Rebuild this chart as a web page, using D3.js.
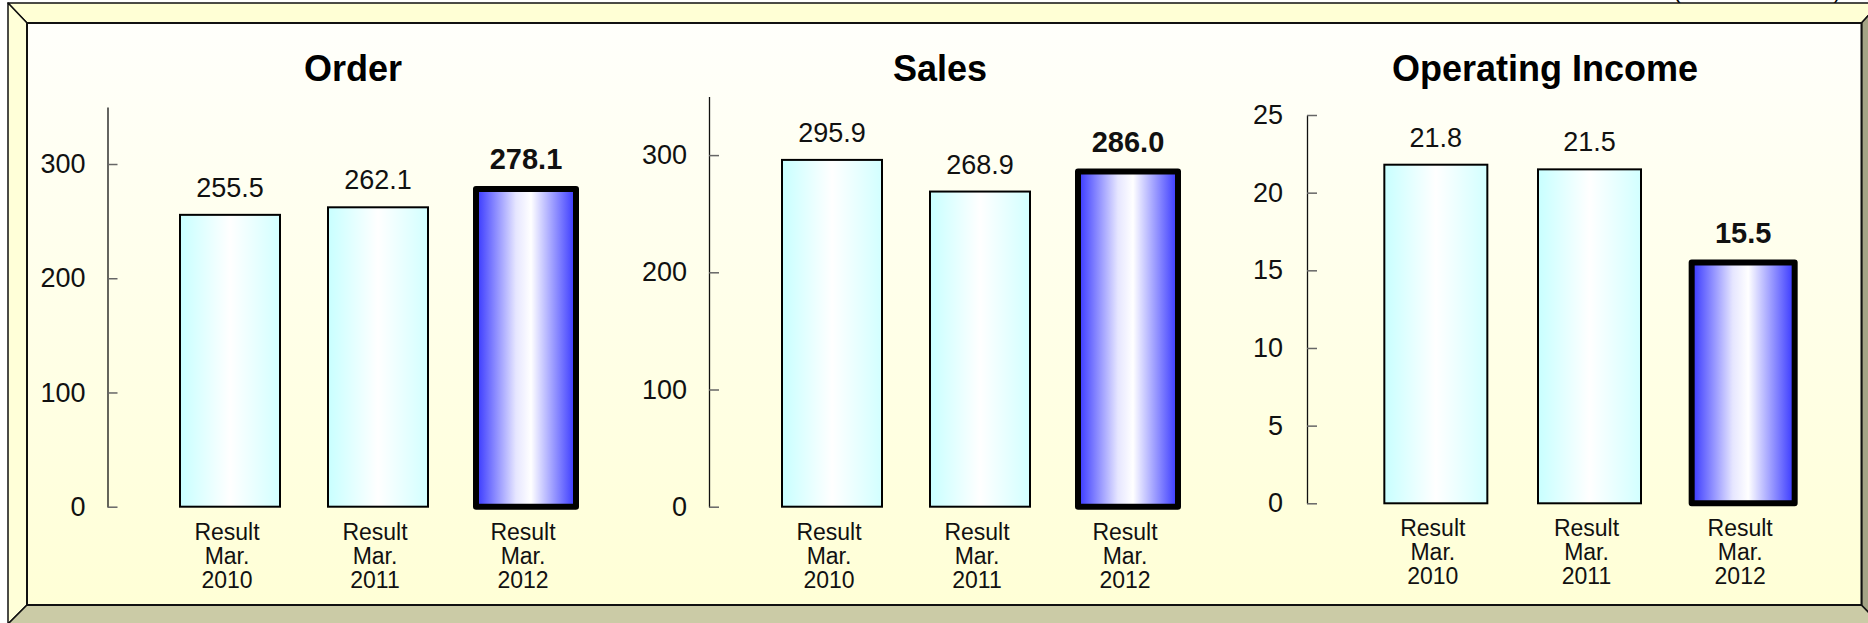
<!DOCTYPE html>
<html lang="en">

<head>
    <meta charset="UTF-8">
    <script src="https://cdn.jsdelivr.net/npm/d3@7/dist/d3.min.js"></script>
    <title>Order / Sales / Operating Income</title>
    <style>
        body { margin: 0; background: #fff; }
        svg { display: block; font-family: "Liberation Sans", Arial, sans-serif; }
    </style>
</head>

<body>
    <svg id="mainsvg" width="1868" height="623"></svg>
    <script>
        // data
        const categories = ['Result Mar. 2010', 'Result Mar. 2011', 'Result Mar. 2012']
        const titles = ['Order', 'Sales', 'Operating Income']
        const orderValues = [255.5, 262.1, 278.1]
        const salesValues = [295.9, 268.9, 286.0]
        const incomeValues = [21.8, 21.5, 15.5]
        const orderTicks = [0, 100, 200, 300]
        const salesTicks = [0, 100, 200, 300]
        const incomeTicks = [0, 5, 10, 15, 20, 25]
        const axisMax = [350, 350, 25]
        const highlightCategory = 'Result Mar. 2012'
        const unitText = '(Unit: Billion Yen)'

        const series = [orderValues, salesValues, incomeValues]
        const tickSets = [orderTicks, salesTicks, incomeTicks]

        // where each small chart sits on the page
        const panels = [
            { axisX: 107.5, yBottom: 506.7, yTop: 106.9, x0: 156, x1: 600, barW: 100, titleX: 353, pad: 22 },
            { axisX: 709, yBottom: 506.7, yTop: 96.5, x0: 758, x1: 1202, barW: 100, titleX: 940, pad: 22 },
            { axisX: 1307, yBottom: 503.3, yTop: 115, x0: 1359, x1: 1820, barW: 103, titleX: 1545, pad: 24 }
        ]

        const svg = d3.select('#mainsvg')
        const defs = svg.append('defs')

        const addGradient = (id, stops, vertical) => {
            const gr = defs.append('linearGradient').attr('id', id)
                .attr('x1', 0).attr('y1', 0)
                .attr('x2', vertical ? 0 : 1).attr('y2', vertical ? 1 : 0)
            stops.forEach(s => gr.append('stop').attr('offset', s[0]).attr('stop-color', s[1]))
        }
        addGradient('panelFill', [[0, '#fffffb'], [1, '#ffffd6']], true)
        addGradient('cyanBar', [[0, '#c8ffff'], [0.5, '#ffffff'], [1, '#d2ffff']], false)
        addGradient('blueBar', [[0, '#3535ff'], [0.4, '#e6e6ff'], [0.55, '#ffffff'], [1, '#3535ff']], false)

        // unit note, mostly above the page edge
        svg.append('text').text(unitText)
            .attr('x', 1757).attr('y', -2)
            .attr('text-anchor', 'middle')
            .attr('font-size', 22)

        // bevelled frame
        const L = 8, T = 3, R = 1880, B = 624
        const il = 27, it = 23, ir = 1861.5, ib = 605
        const bevel = [
            { pts: [[L, T], [R, T], [ir, it], [il, it]], fill: '#ffffd5' },
            { pts: [[L, T], [il, it], [il, ib], [L, B]], fill: '#ffffd8' },
            { pts: [[L, B], [il, ib], [ir, ib], [R, B]], fill: '#cbcba6' },
            { pts: [[R, T], [ir, it], [ir, ib], [R, B]], fill: '#a4a486' }
        ]
        bevel.forEach(b => {
            svg.append('polygon')
                .attr('points', b.pts.map(p => p.join(',')).join(' '))
                .attr('fill', b.fill)
                .attr('stroke', '#111')
                .attr('stroke-width', 1.5)
                .attr('stroke-linejoin', 'round')
        })
        svg.append('rect')
            .attr('x', il).attr('y', it)
            .attr('width', ir - il).attr('height', ib - it)
            .attr('fill', 'url(#panelFill)')
            .attr('stroke', '#111').attr('stroke-width', 2)

        const fmt = d3.format('.1f')

        panels.forEach((p, k) => {
            const values = series[k]
            const g = svg.append('g')

            const yScale = d3.scaleLinear()
                .domain([0, axisMax[k]])
                .range([p.yBottom, p.yTop])
            const pin = 1 - p.barW / ((p.x1 - p.x0) / 3)
            const xScale = d3.scaleBand()
                .domain(categories)
                .range([p.x0, p.x1])
                .paddingInner(pin)
                .paddingOuter(pin / 2)

            // title
            g.append('text').text(titles[k])
                .attr('x', p.titleX).attr('y', 81)
                .attr('text-anchor', 'middle')
                .attr('font-size', 36)
                .attr('font-weight', 'bold')

            // y axis, ticks pointing inwards
            const yAxis = d3.axisLeft(yScale)
                .tickValues(tickSets[k])
                .tickSizeInner(-10)
                .tickSizeOuter(0)
                .tickPadding(p.pad)
            const ax = g.append('g')
                .attr('transform', `translate(${p.axisX},0)`)
                .call(yAxis)
            ax.select('.domain').attr('stroke', '#111').attr('stroke-width', 1.3)
            ax.selectAll('.tick line').attr('stroke', '#666').attr('stroke-width', 1.5)
            ax.selectAll('.tick text')
                .attr('font-size', 27)
                .attr('font-family', '"Liberation Sans", Arial, sans-serif')
                .attr('fill', '#111')

            // bars
            categories.forEach((c, i) => {
                const hi = c === highlightCategory
                const v = values[i]
                g.append('rect')
                    .attr('x', xScale(c))
                    .attr('y', yScale(v))
                    .attr('width', xScale.bandwidth())
                    .attr('height', yScale(0) - yScale(v))
                    .attr('fill', hi ? 'url(#blueBar)' : 'url(#cyanBar)')
                    .attr('stroke', '#000')
                    .attr('stroke-width', hi ? 6 : 2)
                    .attr('stroke-linejoin', hi ? 'round' : 'miter')

                g.append('text').text(fmt(v))
                    .attr('x', xScale(c) + xScale.bandwidth() / 2)
                    .attr('y', yScale(v) - (hi ? 20 : 18))
                    .attr('text-anchor', 'middle')
                    .attr('font-size', hi ? 29 : 27)
                    .attr('font-weight', hi ? 'bold' : 'normal')
                    .attr('fill', '#111')

                // category label, one word per line
                const lab = g.append('text')
                    .attr('text-anchor', 'middle')
                    .attr('font-size', 23)
                    .attr('fill', '#111')
                c.split(' ').forEach((w, j) => {
                    lab.append('tspan')
                        .attr('x', xScale(c) + xScale.bandwidth() / 2 - 3)
                        .attr('y', yScale(0) + 33 + j * 24)
                        .text(w)
                })
            })
        })
    </script>
</body>

</html>
